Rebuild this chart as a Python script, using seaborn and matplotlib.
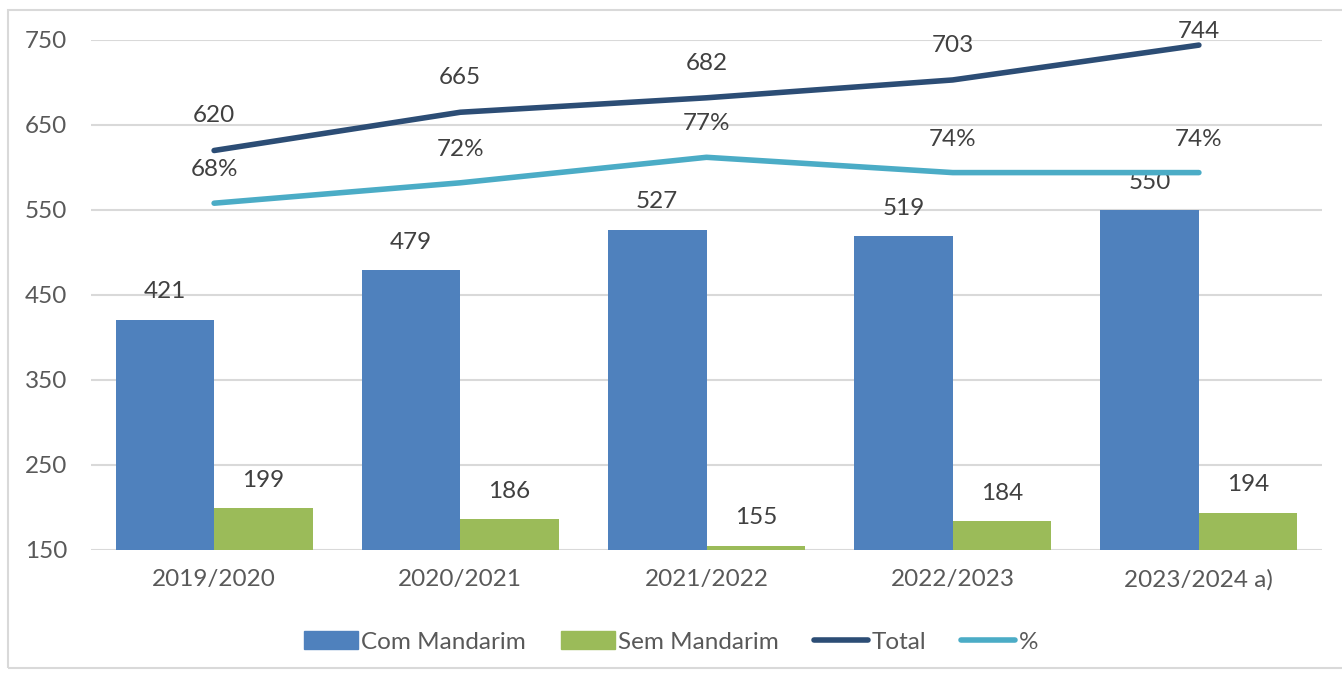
import numpy as np
import pandas as pd
import seaborn as sns
import matplotlib.pyplot as plt
from matplotlib.patches import Rectangle, Patch
from matplotlib.lines import Line2D

# dados
anos = ['2019/2020', '2020/2021', '2021/2022', '2022/2023', '2023/2024 a)']
com_mandarim = [421, 479, 527, 519, 550]
sem_mandarim = [199, 186, 155, 184, 194]
total = [620, 665, 682, 703, 744]
percent = [0.68, 0.72, 0.77, 0.74, 0.74]

c_com = '#4F81BD'
c_sem = '#9BBB59'
c_total = '#2C4D75'
c_pct = '#4BACC6'
txt = '#404040'
grid = '#D9D9D9'
fs = 17.5

sns.set_theme(style='white')
plt.rcParams['font.family'] = ['Lato', 'DejaVu Sans']

df = pd.DataFrame({'ano': anos * 2,
                   'valor': com_mandarim + sem_mandarim,
                   'serie': ['Com Mandarim'] * 5 + ['Sem Mandarim'] * 5})

fig = plt.figure(figsize=(13.42, 6.75), dpi=100)
ax = fig.add_axes([91 / 1342, 1 - 550 / 675, 1231 / 1342, 510 / 675])

sns.barplot(data=df, x='ano', y='valor', hue='serie', palette=[c_com, c_sem],
            width=0.8, saturation=1, linewidth=0, ax=ax, legend=False)
ax.set_ylim(150, 750)
ax.set_xlim(-0.5, 4.5)
ax.set_yticks([150, 250, 350, 450, 550, 650, 750])
ax.yaxis.grid(True, color=grid, linewidth=1.5)
ax.set_axisbelow(True)
for s in ax.spines.values():
    s.set_visible(False)
ax.set_xlabel('')
ax.set_ylabel('')
ax.tick_params(axis='both', length=0, labelsize=fs, labelcolor='#595959')
ax.tick_params(axis='y', pad=17)
ax.tick_params(axis='x', pad=14)

x = np.arange(len(anos))
# rótulos das barras
for i in range(len(anos)):
    ax.annotate(str(com_mandarim[i]), (x[i] - 0.2, com_mandarim[i]), xytext=(0, 20),
                textcoords='offset points', ha='center', va='center', fontsize=fs, color=txt)
    ax.annotate(str(sem_mandarim[i]), (x[i] + 0.2, sem_mandarim[i]), xytext=(0, 20),
                textcoords='offset points', ha='center', va='center', fontsize=fs, color=txt)

# linha total
sns.lineplot(x=x, y=total, color=c_total, linewidth=4, ax=ax, solid_capstyle='round')
for i in range(len(anos)):
    off = 25 if i < 4 else 10
    ax.annotate(str(total[i]), (x[i], total[i]), xytext=(0, off),
                textcoords='offset points', ha='center', va='center', fontsize=fs, color=txt)

# linha % em eixo secundário
ax2 = ax.twinx()
sns.lineplot(x=x, y=percent, color=c_pct, linewidth=4, ax=ax2, solid_capstyle='round')
ax2.set_ylim(0, 1)
ax2.set_xlim(-0.5, 4.5)
ax2.axis('off')
for i in range(len(anos)):
    ax2.annotate(f'{percent[i]:.0%}', (x[i], percent[i]), xytext=(0, 24),
                 textcoords='offset points', ha='center', va='center', fontsize=fs, color=txt)

# legenda
handles = [Patch(color=c_com, label='Com Mandarim'),
           Patch(color=c_sem, label='Sem Mandarim'),
           Line2D([], [], color=c_total, linewidth=4, solid_capstyle='round', label='Total'),
           Line2D([], [], color=c_pct, linewidth=4, solid_capstyle='round', label='%')]
fig.legend(handles=handles, loc='center', bbox_to_anchor=(0.5, 1 - 642 / 675), ncol=4,
           frameon=False, fontsize=fs, labelcolor='#595959', handlelength=2.2,
           handletextpad=0.15, columnspacing=1.45)

# moldura
fig.patches.append(Rectangle((8 / 1342, 7 / 675), 1340 / 1342, 658 / 675,
                             transform=fig.transFigure, fill=False,
                             edgecolor=grid, linewidth=1.5))

fig.savefig('out.png', dpi=100)
